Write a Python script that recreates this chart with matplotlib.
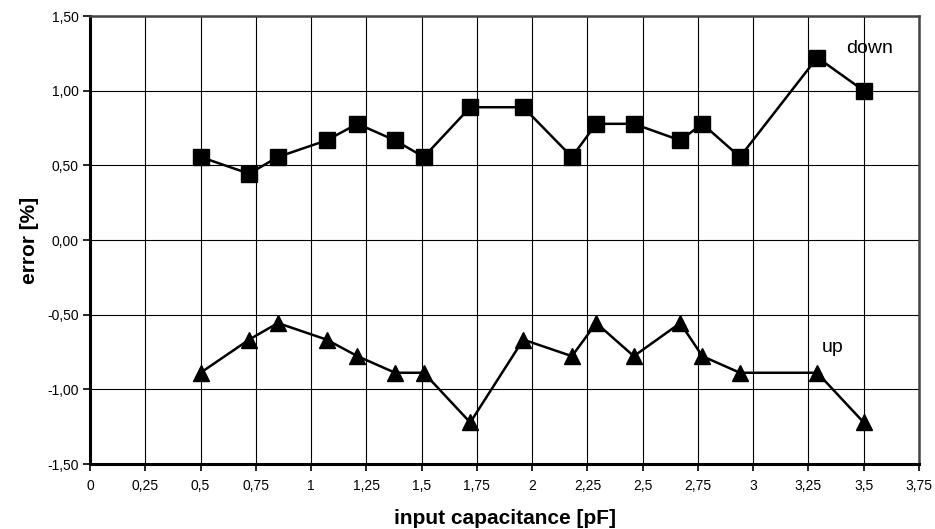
import matplotlib
matplotlib.use("Agg")
import matplotlib.pyplot as plt
from matplotlib.ticker import FuncFormatter, MultipleLocator

plt.rcParams['font.family'] = ['Liberation Sans', 'DejaVu Sans']

# input capacitance [pF]
cap = [0.50, 0.72, 0.85, 1.07, 1.21, 1.38, 1.51, 1.72, 1.96,
       2.18, 2.29, 2.46, 2.67, 2.77, 2.94, 3.29, 3.50]
# error [%]
err_down = [0.556, 0.444, 0.556, 0.667, 0.778, 0.667, 0.556, 0.889, 0.889,
            0.556, 0.778, 0.778, 0.667, 0.778, 0.556, 1.222, 1.000]
err_up = [-0.889, -0.667, -0.556, -0.667, -0.778, -0.889, -0.889, -1.222, -0.667,
          -0.778, -0.556, -0.778, -0.556, -0.778, -0.889, -0.889, -1.222]

fig = plt.figure(figsize=(9.35, 5.29), dpi=100)
ax = fig.add_axes([90/935, 65/529, 829/935, 448/529])

ax.plot(cap, err_down, color='black', lw=1.8, marker='s', ms=11, zorder=3)
ax.plot(cap, err_up, color='black', lw=1.8, marker='^', ms=11, zorder=3)

ax.set_xlim(0, 3.75)
ax.set_ylim(-1.5, 1.5)
ax.xaxis.set_major_locator(MultipleLocator(0.25))
ax.yaxis.set_major_locator(MultipleLocator(0.5))

def xfmt(v, pos):
    s = ('%.2f' % v).rstrip('0').rstrip('.')
    return s.replace('.', ',')

ax.xaxis.set_major_formatter(FuncFormatter(xfmt))
ax.yaxis.set_major_formatter(FuncFormatter(lambda v, p: ('%.2f' % v).replace('.', ',')))

ax.grid(True, color='black', lw=0.8)
ax.set_axisbelow(True)
ax.tick_params(direction='out', length=5, width=1.2, labelsize=10)
ax.tick_params(axis='x', pad=6)
ax.tick_params(axis='y', pad=3)

for side in ['left', 'bottom']:
    ax.spines[side].set_linewidth(2.2)
    ax.spines[side].set_color('black')
for side in ['top', 'right']:
    ax.spines[side].set_linewidth(1.8)
    ax.spines[side].set_color('#444444')

ax.set_xlabel('input capacitance [pF]', fontsize=15, fontweight='bold', labelpad=11)
ax.set_ylabel('error [%]', fontsize=15, fontweight='bold', labelpad=6)

ax.text(3.42, 1.28, 'down', fontsize=14, ha='left', va='center')
ax.text(3.31, -0.72, 'up', fontsize=14, ha='left', va='center')

fig.savefig('out.png', dpi=100)
